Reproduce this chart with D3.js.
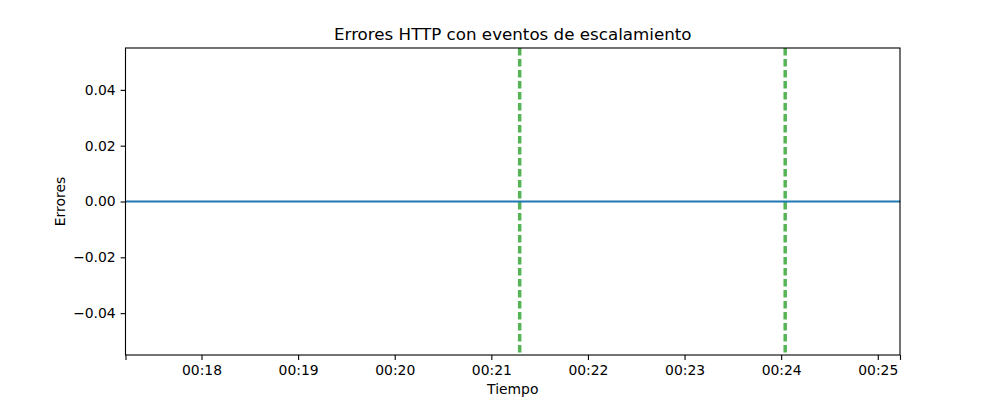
<!DOCTYPE html>
<html><head><meta charset="utf-8">
<script src="https://cdn.jsdelivr.net/npm/d3@7"></script>
<style>body{margin:0;background:#fff}svg{font-family:"DejaVu Sans",sans-serif}</style>
</head><body><svg id="c" width="1000" height="400"></svg>
<script>
const times = ["00:17:13","00:18:00","00:19:00","00:20:00","00:21:00","00:22:00","00:23:00","00:24:00","00:25:00","00:25:14"];
const errores = [0,0,0,0,0,0,0,0,0,0];
const eventos = ["00:21:17.6","00:24:02.5"];
const xTicks = ["00:18","00:19","00:20","00:21","00:22","00:23","00:24","00:25"];
const yTicks = [-0.04,-0.02,0.00,0.02,0.04];
const yDomain = [-0.055,0.055];

const parseF = s => { const p = s.split(":"); const sec = parseFloat(p[2]||0); return new Date(2024,0,1,+p[0],+p[1],Math.floor(sec),Math.round((sec%1)*1000)); };

const L=125.5, R=900, T=48, B=355;
const svg = d3.select("#c");
const x = d3.scaleTime().domain([parseF("00:17:12.8"), parseF("00:25:13.8")]).range([L,R]);
const y = d3.scaleLinear().domain(yDomain).range([B,T]);

// events
svg.selectAll("line.ev").data(eventos).join("line").attr("class","ev")
  .attr("x1",d=>x(parseF(d))).attr("x2",d=>x(parseF(d)))
  .attr("y1",T).attr("y2",B)
  .attr("stroke","#2ca02c").attr("stroke-opacity",0.8).attr("stroke-width",3.5).attr("stroke-dasharray","7.5,3.5");

// line
const data = times.map((t,i)=>({t:parseF(t),v:errores[i]}));
svg.append("path").datum(data)
  .attr("d", d3.line().x(d=>x(d.t)).y(d=>y(d.v)))
  .attr("fill","none").attr("stroke","#1f77b4").attr("stroke-width",2.1);

// axes
const fmt = d3.timeFormat("%H:%M");
const xAx = d3.axisBottom(x).tickValues([x.domain()[0], ...xTicks.map(parseF), x.domain()[1]])
  .tickFormat((d,i,n)=> (i===0 || i===n.length-1) ? "" : fmt(d))
  .tickSizeOuter(0).tickSize(4.9).tickPadding(4.9);
const gx = svg.append("g").attr("transform",`translate(0,${B})`).call(xAx);
const yAx = d3.axisLeft(y).tickValues(yTicks).tickFormat(d=>d3.format(".2f")(d).replace("-","\u2212"))
  .tickSizeOuter(0).tickSize(4.9).tickPadding(4.9);
const gy = svg.append("g").attr("transform",`translate(${L},0)`).call(yAx);
[gx,gy].forEach(g=>{
  g.select(".domain").remove();
  g.selectAll("line").attr("stroke","#000").attr("stroke-width",1.1);
  g.selectAll("text").attr("font-size","13.9px").attr("fill","#000").attr("font-family","DejaVu Sans");
});
gx.selectAll("text").attr("dy","0.71em");

// frame
svg.append("rect").attr("x",L).attr("y",T).attr("width",R-L).attr("height",B-T)
  .attr("fill","none").attr("stroke","#000").attr("stroke-width",1.1);

svg.append("text").attr("x",(L+R)/2).attr("y",40).attr("text-anchor","middle")
  .attr("font-size","16.7px").text("Errores HTTP con eventos de escalamiento");
svg.append("text").attr("x",(L+R)/2).attr("y",394).attr("text-anchor","middle")
  .attr("font-size","13.9px").text("Tiempo");
svg.append("text").attr("transform","translate(65,201.5) rotate(-90)").attr("text-anchor","middle")
  .attr("font-size","13.9px").text("Errores");
</script></body></html>
